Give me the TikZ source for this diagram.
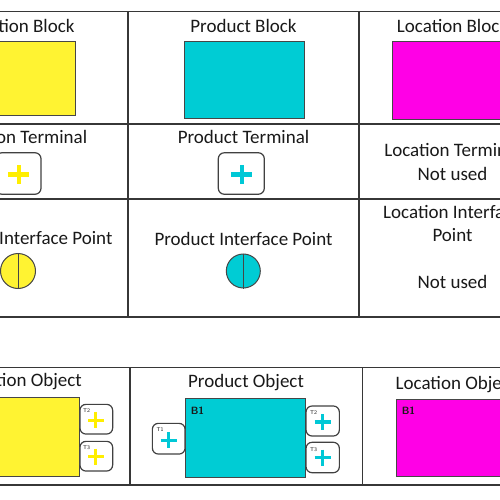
\documentclass[tikz,border=0pt]{standalone}
\usepackage{fontspec}
\setmainfont{Carlito}
\begin{document}
\begin{tikzpicture}[x=1pt,y=-1pt,
  grid/.style={draw=tline,line width=1.3pt},
  lbl/.style={inner sep=0pt,anchor=base,text=txt,font=\fontsize{19}{23}\selectfont},
  blk/.style={draw=bord,line width=0.9pt,inner sep=0pt},
  term/.style={draw=tbord,line width=1.2pt,rounded corners=6pt,fill=white,inner sep=0pt},
  tag/.style={inner sep=0pt,text=txt,font=\sffamily\fontsize{5.5}{6}\selectfont},
  btag/.style={inner sep=0pt,text=txt,font=\sffamily\bfseries\fontsize{10.5}{11}\selectfont},
  plusbig/.style={line width=4.3pt},
  plussmall/.style={line width=3.4pt},
  ipt/.style={circle,draw=bord,line width=1pt,inner sep=0pt,minimum size=35pt}]
\definecolor{tline}{RGB}{55,55,55}
\definecolor{txt}{RGB}{25,25,25}
\definecolor{bord}{RGB}{70,70,70}
\definecolor{tbord}{RGB}{65,65,65}
\definecolor{ylw}{RGB}{255,243,50}
\definecolor{cyn}{RGB}{0,204,212}
\definecolor{mag}{RGB}{255,0,230}
\definecolor{pY}{RGB}{255,238,0}
\definecolor{pC}{RGB}{0,200,214}
\useasboundingbox (0,0) rectangle (500,500);
\clip (0,0) rectangle (500,500);
\fill[white] (0,0) rectangle (500,500);
% top table
\draw[grid] (-10,11.7) -- (510,11.7);
\draw[grid] (-10,124) -- (510,124);
\draw[grid] (-10,199) -- (510,199);
\draw[grid] (-10,317) -- (510,317);
\draw[grid] (128,11.7) -- (128,317);
\draw[grid] (359,11.7) -- (359,317);
% row 1
\node[lbl] (h11) at (19,32.5) {Location Block};
\node[lbl] (h12) at (243.5,32.5) {Product Block};
\node[lbl] (h13) at (452.5,32.5) {Location Block};
\node[blk,fill=ylw,minimum width=120pt,minimum height=74pt] (yb) at (15,78) {};
\node[blk,fill=cyn,minimum width=120pt,minimum height=77pt] (cb) at (244.2,79.7) {};
\node[blk,fill=mag,minimum width=120pt,minimum height=78pt] (mb) at (452.7,80) {};
% row 2
\node[lbl] (h21) at (19,143) {Location Terminal};
\node[lbl] (h22) at (243.5,143) {Product Terminal};
\node[lbl] (h23) at (452.5,156.5) {Location Terminal};
\node[lbl] (h23b) at (452.5,180) {Not used};
\node[term,minimum width=45pt,minimum height=41.5pt] (yt) at (18.5,173.5) {};
\node[term,minimum width=46pt,minimum height=41.5pt] (ct) at (241.3,173.5) {};
\draw[plusbig,pY] ([shift={(-10.5,1)}]yt.center) -- ([shift={(10.5,1)}]yt.center);
\draw[plusbig,pY] ([shift={(0.5,-8.5)}]yt.center) -- ([shift={(0.5,10.5)}]yt.center);
\draw[plusbig,pC] ([shift={(-10.5,1)}]ct.center) -- ([shift={(10.5,1)}]ct.center);
\draw[plusbig,pC] ([shift={(0.9,-8.5)}]ct.center) -- ([shift={(0.9,10.5)}]ct.center);
% row 3
\node[lbl] (h31) at (21,244.5) {Location Interface Point};
\node[lbl] (h32) at (243.5,245.5) {Product Interface Point};
\node[lbl] (h33) at (452.5,218.3) {Location Interface};
\node[lbl] (h33b) at (452.5,241.7) {Point};
\node[lbl] (h33c) at (452.5,288.3) {Not used};
\node[ipt,fill=ylw] (yi) at (18,271) {};
\node[ipt,fill=cyn,minimum size=34pt] (ci) at (243.3,271) {};
\draw[draw=bord,line width=1pt] (yi.north) -- (yi.south);
\draw[draw=bord,line width=1pt] (ci.north) -- (ci.south);
% bottom table
\draw[grid] (-10,367.3) -- (510,367.3);
\draw[grid] (-10,485) -- (510,485);
\draw[grid] (130,367.3) -- (130,485);
\draw[grid] (362.5,367.3) -- (362.5,485);
\node[lbl] (o1) at (21.5,386) {Location Object};
\node[lbl] (o2) at (246,387.3) {Product Object};
\node[lbl] (o3) at (456,389) {Location Object};
% col1 object
\node[blk,fill=ylw,minimum width=120pt,minimum height=79pt] (yo) at (19.3,437.2) {};
\node[term,minimum width=32.7pt,minimum height=29.7pt] (yt2) at (96.3,419.2) {};
\node[term,minimum width=32.7pt,minimum height=29.7pt] (yt3) at (96.3,456.2) {};
\node[tag] (yl2) at (86.5,410.5) {T2};
\node[tag] (yl3) at (86.5,447.5) {T3};
\draw[plussmall,pY] ([shift={(-8,1.2)}]yt2.center) -- ([shift={(8,1.2)}]yt2.center);
\draw[plussmall,pY] ([shift={(-0.6,-6.8)}]yt2.center) -- ([shift={(-0.6,9.2)}]yt2.center);
\draw[plussmall,pY] ([shift={(-8,0.5)}]yt3.center) -- ([shift={(8,0.5)}]yt3.center);
\draw[plussmall,pY] ([shift={(-0.6,-7.5)}]yt3.center) -- ([shift={(-0.6,8.5)}]yt3.center);
% col2 object
\node[blk,fill=cyn,minimum width=120.7pt,minimum height=79pt] (co) at (245.3,437.8) {};
\node[btag] (cbl) at (197.5,410.5) {B1};
\node[term,minimum width=32.7pt,minimum height=30.7pt] (ct1) at (168.7,438.7) {};
\node[term,minimum width=33.3pt,minimum height=30pt] (ct2) at (322.7,421) {};
\node[term,minimum width=33.3pt,minimum height=30.4pt] (ct3) at (322.7,457.5) {};
\node[tag] (cl1) at (160,430) {T1};
\node[tag] (cl2) at (313.5,413) {T2};
\node[tag] (cl3) at (313.5,449.5) {T3};
\draw[plussmall,pC] ([shift={(-8,1.5)}]ct1.center) -- ([shift={(8,1.5)}]ct1.center);
\draw[plussmall,pC] ([shift={(0,-6.5)}]ct1.center) -- ([shift={(0,9.5)}]ct1.center);
\draw[plussmall,pC] ([shift={(-8,1)}]ct2.center) -- ([shift={(8,1)}]ct2.center);
\draw[plussmall,pC] ([shift={(-0.5,-7)}]ct2.center) -- ([shift={(-0.5,9)}]ct2.center);
\draw[plussmall,pC] ([shift={(-8,0.2)}]ct3.center) -- ([shift={(8,0.2)}]ct3.center);
\draw[plussmall,pC] ([shift={(-0.5,-7.8)}]ct3.center) -- ([shift={(-0.5,8.2)}]ct3.center);
% col3 object
\node[blk,fill=mag,minimum width=120pt,minimum height=77pt] (mo) at (456.8,437.7) {};
\node[btag] (mbl) at (408.5,411) {B1};
\end{tikzpicture}
\end{document}
